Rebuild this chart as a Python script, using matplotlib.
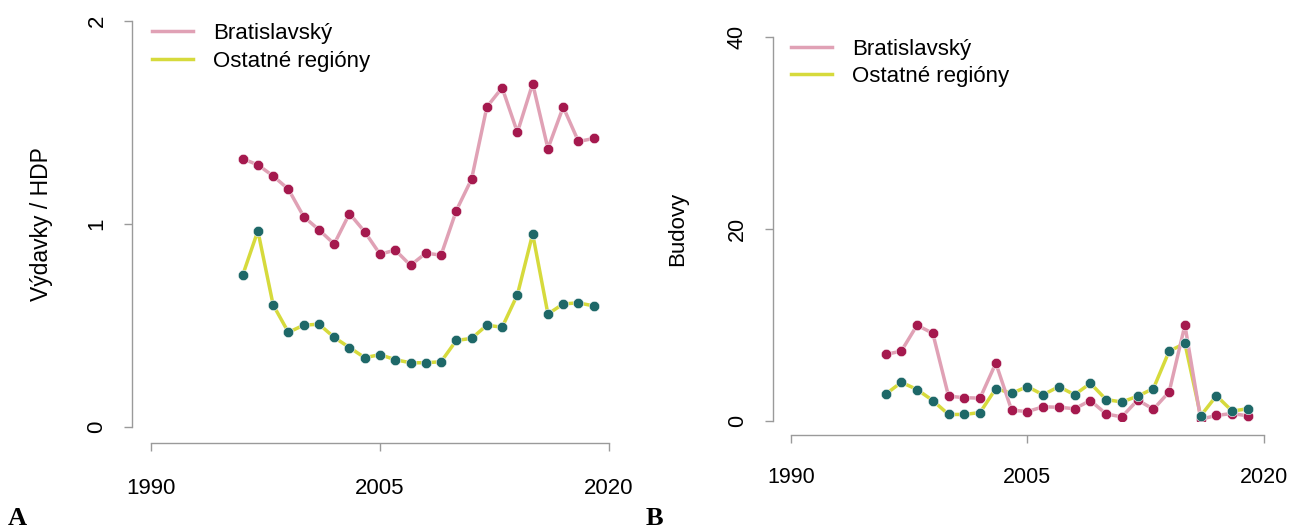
#!/usr/bin/env python

import matplotlib
matplotlib.use("Agg")
import matplotlib.pyplot as plt


plt.rcParams["font.family"] = ["Liberation Sans", "DejaVu Sans"]

years = list(range(1996, 2020))

# vydavky / HDP
brat_hdp = [1.32, 1.29, 1.235, 1.17, 1.035, 0.97, 0.90, 1.05, 0.96, 0.85,
            0.87, 0.795, 0.855, 0.845, 1.065, 1.22, 1.575, 1.67, 1.45, 1.69,
            1.37, 1.575, 1.405, 1.42]
ost_hdp = [0.745, 0.965, 0.60, 0.465, 0.50, 0.505, 0.44, 0.39, 0.34, 0.355,
           0.33, 0.315, 0.315, 0.32, 0.425, 0.435, 0.50, 0.49, 0.65, 0.95,
           0.555, 0.605, 0.61, 0.595]

# budovy
brat_bud = [6.9, 7.25, 9.95, 9.1, 2.55, 2.4, 2.35, 6.0, 1.1, 0.95,
            1.45, 1.4, 1.25, 2.1, 0.7, 0.4, 2.15, 1.2, 3.0, 9.95,
            0.15, 0.55, 0.75, 0.5]
ost_bud = [2.75, 4.0, 3.25, 2.1, 0.65, 0.65, 0.85, 3.35, 2.85, 3.55,
           2.7, 3.55, 2.7, 3.9, 2.2, 1.95, 2.55, 3.35, 7.25, 8.05,
           0.5, 2.6, 1.0, 1.25]

labels = ["Bratislavský", "Ostatné regióny"]
line_cols = ["#e0a1b5", "#d6da3c"]
dot_cols = ["#a5194e", "#1e6868"]

W, H = 1290, 529
fig = plt.figure(figsize=(W / 100, H / 100), dpi=100)


def make_panel(rect, ymax, yticks, brat, ost, ylabel, lab_xy, leg_xy,
               off_left, off_bottom, fs, xpad, leg_fs, lab_fs, lspace):
    ax = fig.add_axes(rect)
    ax.plot(years, ost, color=line_cols[1], lw=2.5, zorder=2, label=labels[1])
    ax.plot(years, brat, color=line_cols[0], lw=2.5, zorder=2.5, label=labels[0])
    ax.plot(years, brat, "o", color=dot_cols[0], ms=7.5, mec="white", mew=0.4, zorder=3)
    ax.plot(years, ost, "o", color=dot_cols[1], ms=7.5, mec="white", mew=0.4, zorder=3.5)

    ax.set_xlim(1990, 2020)
    ax.set_ylim(0, ymax)
    ax.set_xticks([1990, 2005, 2020])
    ax.set_yticks(yticks)

    for s in ["top", "right"]:
        ax.spines[s].set_visible(False)
    ax.spines["left"].set_position(("outward", off_left))
    ax.spines["bottom"].set_position(("outward", off_bottom))
    ax.spines["left"].set_bounds(0, ymax)
    ax.spines["bottom"].set_bounds(1990, 2020)
    for s in ["left", "bottom"]:
        ax.spines[s].set_color("#9a9a9a")
        ax.spines[s].set_linewidth(1.0)

    ax.tick_params(colors="#9a9a9a", labelcolor="black", length=6, width=1.0,
                   labelsize=fs)
    ax.tick_params(axis="x", pad=xpad)
    ax.tick_params(axis="y", pad=12)
    for t in ax.get_yticklabels():
        t.set_rotation(90)
        t.set_va("center")

    fig.text(lab_xy[0] / W, 1 - lab_xy[1] / H, ylabel, rotation=90,
             ha="center", va="center", fontsize=lab_fs)

    handles, labs = ax.get_legend_handles_labels()
    ax.legend(handles[::-1], labs[::-1], loc="upper left",
              bbox_to_anchor=(leg_xy[0] / W, 1 - leg_xy[1] / H),
              bbox_transform=fig.transFigure, frameon=False, fontsize=leg_fs,
              handlelength=1.85, handletextpad=0.9, labelspacing=lspace,
              borderpad=0, borderaxespad=0)
    return ax


make_panel([151 / W, 1 - 426.7 / H, 458 / W, 406 / H], 2, [0, 1, 2],
           brat_hdp, ost_hdp, "Výdavky / HDP", (42, 224), (151.7, 23),
           13.4, 11.7, 16, 19, 16, 16.5, 0.3)
make_panel([791 / W, 1 - 420.7 / H, 472.7 / W, 384 / H], 40, [0, 20, 40],
           brat_bud, ost_bud, "Budovy", (678, 229), (791, 39),
           13.2, 10.3, 15.5, 17, 16, 16, 0.27)

fig.text(8 / W, 1 - 525 / H, "A", family=["Liberation Serif", "DejaVu Serif"],
         fontweight="bold", fontsize=19, ha="left", va="baseline")
fig.text(646 / W, 1 - 525 / H, "B", family=["Liberation Serif", "DejaVu Serif"],
         fontweight="bold", fontsize=19, ha="left", va="baseline")

fig.savefig("out.png", dpi=100)
